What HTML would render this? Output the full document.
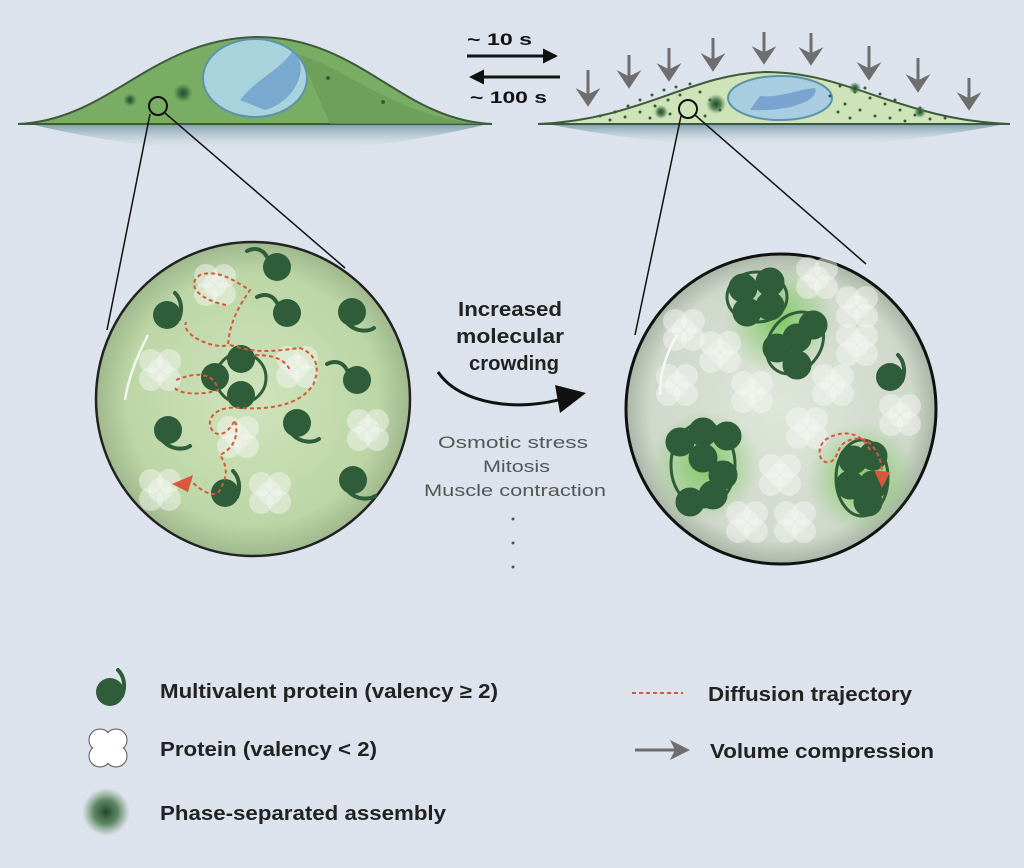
<!DOCTYPE html>
<html><head><meta charset="utf-8"><style>
body{margin:0;background:#dde3ec;}
svg{display:block;}
text{font-family:"Liberation Sans",Arial,sans-serif;}
</style></head><body>
<svg width="1024" height="868" viewBox="0 0 1024 868" xmlns="http://www.w3.org/2000/svg">
<defs>
<g id="prot"><circle cx="0" cy="0" r="14" fill="#2f5d3a"/><path d="M12,4 C16,-6 14,-16 8,-22" stroke="#2f5d3a" stroke-width="4" fill="none" stroke-linecap="round"/></g>
<g id="prot2"><circle cx="0" cy="0" r="14" fill="#2f5d3a"/><path d="M-4,12 C4,20 16,20 22,16" stroke="#2f5d3a" stroke-width="4" fill="none" stroke-linecap="round"/></g>
<g id="prot3"><circle cx="0" cy="0" r="14" fill="#2f5d3a"/><path d="M-10,-10 C-14,-18 -22,-20 -30,-16" stroke="#2f5d3a" stroke-width="4" fill="none" stroke-linecap="round"/></g>
<g id="cloud" fill="#f4f6f2" fill-opacity="0.5"><circle cx="-9" cy="-9" r="12"/><circle cx="9" cy="-9" r="12"/><circle cx="-9" cy="9" r="12"/><circle cx="9" cy="9" r="12"/><circle cx="0" cy="0" r="12"/></g>
<radialGradient id="lg" cx="0.5" cy="0.5" r="0.5"><stop offset="0" stop-color="#cfe3bb"/><stop offset="0.8" stop-color="#bcd6a6"/><stop offset="1" stop-color="#9fb98e"/></radialGradient>
<radialGradient id="rg" cx="0.5" cy="0.5" r="0.5"><stop offset="0" stop-color="#dfe6da"/><stop offset="0.85" stop-color="#cfd8cb"/><stop offset="1" stop-color="#a9b5a6"/></radialGradient>
<radialGradient id="glow"><stop offset="0" stop-color="#6cc24a" stop-opacity="0.8"/><stop offset="1" stop-color="#6cc24a" stop-opacity="0"/></radialGradient>
<radialGradient id="blob"><stop offset="0" stop-color="#1f4a28"/><stop offset="0.5" stop-color="#3c6e42" stop-opacity="0.8"/><stop offset="1" stop-color="#5b8a56" stop-opacity="0"/></radialGradient>
<linearGradient id="shadow" x1="0" y1="0" x2="0" y2="1"><stop offset="0" stop-color="#7d9fab"/><stop offset="1" stop-color="#dde3ec" stop-opacity="0"/></linearGradient>
<marker id="ah" viewBox="0 0 10 10" refX="8" refY="5" markerWidth="5" markerHeight="5" orient="auto"><path d="M0,0 L10,5 L0,10 z" fill="#111"/></marker>
</defs>

<!-- left cell -->
<path d="M30,124 Q260,180 488,124 Z" fill="url(#shadow)"/>
<path d="M18,124 C110,120 150,40 255,37 C360,36 400,120 492,124 Z" fill="#79ad63" stroke="#3d5a3a" stroke-width="2"/>
<path d="M300,55 C350,70 400,120 488,124 L330,124 Z" fill="#6a9a58" opacity="0.7"/>
<ellipse cx="255" cy="78" rx="52" ry="39" fill="#a8d3dc" stroke="#5c93a8" stroke-width="2"/>
<path d="M265,110 C300,100 310,60 292,52 C280,70 255,80 240,100 Z" fill="#7aa9d0"/>
<circle cx="130" cy="100" r="7" fill="url(#blob)"/><circle cx="183" cy="93" r="10" fill="url(#blob)"/>
<circle cx="328" cy="78" r="2" fill="#2f5d3a"/><circle cx="383" cy="102" r="2" fill="#2f5d3a"/>
<circle cx="158" cy="106" r="9" fill="none" stroke="#111" stroke-width="2"/>
<!-- right cell -->
<path d="M548,124 Q775,170 1005,124 Z" fill="url(#shadow)"/>
<path d="M538,124 C640,120 690,74 765,72 C850,72 900,120 1010,124 Z" fill="#cfe3b8" stroke="#3d5a3a" stroke-width="2"/>
<ellipse cx="780" cy="98" rx="52" ry="22" fill="#a8cde0" stroke="#5c93a8" stroke-width="2"/>
<path d="M750,110 C790,112 820,100 815,88 C795,90 780,98 760,96 Z" fill="#7aa3d0"/>
<g fill="#2f5d3a">
<circle cx="600" cy="116" r="1.5"/><circle cx="615" cy="112" r="1.5"/><circle cx="628" cy="106" r="1.5"/><circle cx="640" cy="100" r="1.5"/><circle cx="652" cy="95" r="1.5"/><circle cx="664" cy="90" r="1.5"/><circle cx="676" cy="87" r="1.5"/><circle cx="690" cy="84" r="1.5"/><circle cx="610" cy="120" r="1.5"/><circle cx="625" cy="117" r="1.5"/><circle cx="640" cy="112" r="1.5"/><circle cx="655" cy="106" r="1.5"/><circle cx="668" cy="100" r="1.5"/><circle cx="680" cy="95" r="1.5"/><circle cx="700" cy="92" r="1.5"/><circle cx="710" cy="100" r="1.5"/><circle cx="650" cy="118" r="1.5"/><circle cx="670" cy="114" r="1.5"/><circle cx="705" cy="116" r="1.5"/><circle cx="720" cy="110" r="1.5"/>
<circle cx="840" cy="86" r="1.5"/><circle cx="855" cy="92" r="1.5"/><circle cx="870" cy="98" r="1.5"/><circle cx="885" cy="104" r="1.5"/><circle cx="900" cy="110" r="1.5"/><circle cx="915" cy="115" r="1.5"/><circle cx="930" cy="119" r="1.5"/><circle cx="845" cy="104" r="1.5"/><circle cx="860" cy="110" r="1.5"/><circle cx="875" cy="116" r="1.5"/><circle cx="890" cy="118" r="1.5"/><circle cx="905" cy="121" r="1.5"/><circle cx="850" cy="118" r="1.5"/><circle cx="838" cy="112" r="1.5"/><circle cx="865" cy="88" r="1.5"/><circle cx="880" cy="94" r="1.5"/><circle cx="895" cy="100" r="1.5"/><circle cx="920" cy="108" r="1.5"/><circle cx="945" cy="118" r="1.5"/><circle cx="830" cy="96" r="1.5"/>
</g>
<circle cx="661" cy="112" r="7" fill="url(#blob)"/><circle cx="716" cy="104" r="10" fill="url(#blob)"/><circle cx="855" cy="88" r="6" fill="url(#blob)"/><circle cx="920" cy="112" r="6" fill="url(#blob)"/>
<circle cx="688" cy="109" r="9" fill="none" stroke="#111" stroke-width="2"/>

<!-- time arrows -->
<text x="467" y="45" font-size="17" font-weight="bold" fill="#111" textLength="65" lengthAdjust="spacingAndGlyphs">~ 10 s</text>
<line x1="467" y1="56" x2="555" y2="56" stroke="#111" stroke-width="3" marker-end="url(#ah)"/>
<line x1="560" y1="77" x2="472" y2="77" stroke="#111" stroke-width="3" marker-end="url(#ah)"/>
<text x="470" y="103" font-size="17" font-weight="bold" fill="#111" textLength="77" lengthAdjust="spacingAndGlyphs">~ 100 s</text>
<!-- compression arrows -->
<g stroke="#6e6e6e" stroke-width="3" fill="#6e6e6e">
<line x1="588" y1="70" x2="588" y2="98"/><path d="M580,92 L588,104 L596,92 L588,96z"/>
<line x1="629" y1="55" x2="629" y2="80"/><path d="M621,74 L629,86 L637,74 L629,78z"/>
<line x1="669" y1="48" x2="669" y2="73"/><path d="M661,67 L669,79 L677,67 L669,71z"/>
<line x1="713" y1="38" x2="713" y2="63"/><path d="M705,57 L713,69 L721,57 L713,61z"/>
<line x1="764" y1="32" x2="764" y2="56"/><path d="M756,50 L764,62 L772,50 L764,54z"/>
<line x1="811" y1="33" x2="811" y2="57"/><path d="M803,51 L811,63 L819,51 L811,55z"/>
<line x1="869" y1="46" x2="869" y2="72"/><path d="M861,66 L869,78 L877,66 L869,70z"/>
<line x1="918" y1="58" x2="918" y2="84"/><path d="M910,78 L918,90 L926,78 L918,82z"/>
<line x1="969" y1="78" x2="969" y2="102"/><path d="M961,96 L969,108 L977,96 L969,100z"/>
</g>

<!-- zoom lines -->
<line x1="150" y1="114" x2="107" y2="330" stroke="#111" stroke-width="1.5"/>
<line x1="165" y1="113" x2="345" y2="268" stroke="#111" stroke-width="1.5"/>
<line x1="681" y1="116" x2="635" y2="335" stroke="#111" stroke-width="1.5"/>
<line x1="695" y1="115" x2="866" y2="264" stroke="#111" stroke-width="1.5"/>

<!-- left circle -->
<circle cx="253" cy="399" r="157" fill="url(#lg)" stroke="#222" stroke-width="2.5"/>
<path d="M148,335 C135,360 128,380 125,400" stroke="#fff" stroke-width="2.5" fill="none" opacity="0.8"/>
<g>
<use href="#cloud" x="215" y="285"/><use href="#cloud" x="160" y="370"/><use href="#cloud" x="297" y="367"/><use href="#cloud" x="238" y="437"/><use href="#cloud" x="368" y="430"/><use href="#cloud" x="160" y="490"/><use href="#cloud" x="270" y="493"/>
</g>
<use href="#prot3" x="277" y="267"/><use href="#prot" x="167" y="315"/><use href="#prot3" x="287" y="313"/><use href="#prot2" x="352" y="312"/><use href="#prot3" x="357" y="380"/><use href="#prot2" x="168" y="430"/><use href="#prot2" x="297" y="423"/><use href="#prot2" x="353" y="480"/><use href="#prot" x="225" y="493"/>
<circle cx="241" cy="378" r="25" fill="none" stroke="#2f5d3a" stroke-width="3"/>
<circle cx="241" cy="359" r="14" fill="#2f5d3a"/><circle cx="215" cy="377" r="14" fill="#2f5d3a"/><circle cx="241" cy="395" r="14" fill="#2f5d3a"/>
<path d="M226,305 C200,300 185,285 200,275 C220,268 240,285 250,290 C240,305 230,320 228,345 C215,350 180,335 186,322 M230,345 C260,355 280,350 300,348 C318,355 320,370 313,385 C300,405 270,410 240,408 C215,405 205,420 212,430 C220,440 230,430 235,420 C240,440 230,450 220,455 C230,470 225,480 220,490 C215,500 200,490 190,480 M176,380 C200,370 215,375 218,390 C205,395 180,395 175,388 M255,355 C275,355 285,360 290,370" stroke="#d9573a" stroke-width="2" stroke-dasharray="4,3" fill="none"/>
<path d="M172,484 L193,475 L188,492 Z" fill="#d9573a"/>

<!-- middle -->
<text x="458" y="316" font-size="20" font-weight="bold" fill="#222" textLength="104" lengthAdjust="spacingAndGlyphs">Increased</text>
<text x="456" y="343" font-size="20" font-weight="bold" fill="#222" textLength="108" lengthAdjust="spacingAndGlyphs">molecular</text>
<text x="469" y="370" font-size="20" font-weight="bold" fill="#222" textLength="90" lengthAdjust="spacingAndGlyphs">crowding</text>
<path d="M438,372 C460,405 520,412 565,398" stroke="#111" stroke-width="3" fill="none"/>
<path d="M555,385 L586,393 L560,413 Z" fill="#111"/>
<text x="438" y="448" font-size="17" fill="#555" textLength="150" lengthAdjust="spacingAndGlyphs">Osmotic stress</text>
<text x="483" y="472" font-size="17" fill="#555" textLength="67" lengthAdjust="spacingAndGlyphs">Mitosis</text>
<text x="424" y="496" font-size="17" fill="#555" textLength="182" lengthAdjust="spacingAndGlyphs">Muscle contraction</text>
<circle cx="513" cy="519" r="1.5" fill="#555"/><circle cx="513" cy="543" r="1.5" fill="#555"/><circle cx="513" cy="567" r="1.5" fill="#555"/>

<!-- right circle -->
<circle cx="781" cy="409" r="155" fill="url(#rg)" stroke="#111" stroke-width="3"/>
<circle cx="780" cy="320" r="55" fill="url(#glow)"/><circle cx="705" cy="465" r="55" fill="url(#glow)"/><circle cx="862" cy="478" r="55" fill="url(#glow)"/>
<path d="M677,335 C665,355 660,375 660,395" stroke="#fff" stroke-width="2.5" fill="none" opacity="0.8"/>
<g>
<use href="#cloud" x="817" y="278"/><use href="#cloud" x="857" y="307"/><use href="#cloud" x="720" y="352"/><use href="#cloud" x="857" y="345"/><use href="#cloud" x="752" y="392"/><use href="#cloud" x="833" y="385"/><use href="#cloud" x="677" y="385"/><use href="#cloud" x="807" y="428"/><use href="#cloud" x="780" y="475"/><use href="#cloud" x="900" y="415"/><use href="#cloud" x="747" y="522"/><use href="#cloud" x="795" y="522"/><use href="#cloud" x="684" y="330"/>
</g>
<g fill="#2f5d3a" stroke="#2f5d3a" stroke-width="3">
<ellipse cx="757" cy="297" rx="30" ry="25" fill="none"/>
<circle cx="743" cy="288" r="13"/><circle cx="770" cy="282" r="13"/><circle cx="747" cy="312" r="13"/><circle cx="770" cy="306" r="13"/>
<ellipse cx="795" cy="343" rx="26" ry="33" fill="none" transform="rotate(35 795 343)"/>
<circle cx="813" cy="325" r="13"/><circle cx="777" cy="348" r="13"/><circle cx="797" cy="338" r="13"/><circle cx="797" cy="365" r="13"/>
<ellipse cx="703" cy="465" rx="32" ry="42" fill="none"/>
<circle cx="680" cy="442" r="13"/><circle cx="703" cy="432" r="13"/><circle cx="727" cy="436" r="13"/><circle cx="703" cy="458" r="13"/><circle cx="723" cy="475" r="13"/><circle cx="690" cy="502" r="13"/><circle cx="713" cy="495" r="13"/>
<ellipse cx="862" cy="478" rx="26" ry="38" fill="none"/>
<circle cx="853" cy="460" r="13"/><circle cx="873" cy="456" r="13"/><circle cx="850" cy="485" r="13"/><circle cx="873" cy="485" r="13"/><circle cx="868" cy="502" r="13"/>
</g>
<use href="#prot" x="890" y="377"/>
<path d="M870,450 C860,430 840,430 825,440 C815,450 820,465 830,462 C840,458 835,445 850,440 C865,435 875,445 880,460 L882,470" stroke="#d9573a" stroke-width="2" stroke-dasharray="4,3" fill="none"/>
<path d="M874,470 L890,472 L882,488 Z" fill="#d9573a"/>

<!-- legend -->
<use href="#prot" x="110" y="692"/>
<text x="160" y="698" font-size="20" font-weight="bold" fill="#222" textLength="338" lengthAdjust="spacingAndGlyphs">Multivalent protein (valency ≥ 2)</text>
<g fill="#fff" stroke="#555" stroke-width="1"><circle cx="100" cy="740" r="11"/><circle cx="116" cy="740" r="11"/><circle cx="100" cy="756" r="11"/><circle cx="116" cy="756" r="11"/></g>
<g fill="#fff"><circle cx="100" cy="740" r="10"/><circle cx="116" cy="740" r="10"/><circle cx="100" cy="756" r="10"/><circle cx="116" cy="756" r="10"/><circle cx="108" cy="748" r="12"/></g>
<text x="160" y="756" font-size="20" font-weight="bold" fill="#222" textLength="217" lengthAdjust="spacingAndGlyphs">Protein (valency &lt; 2)</text>
<circle cx="106" cy="812" r="24" fill="url(#blob)"/>
<text x="160" y="820" font-size="20" font-weight="bold" fill="#222" textLength="286" lengthAdjust="spacingAndGlyphs">Phase-separated assembly</text>
<line x1="632" y1="693" x2="683" y2="693" stroke="#d9573a" stroke-width="2" stroke-dasharray="4,3"/>
<text x="708" y="701" font-size="20" font-weight="bold" fill="#222" textLength="204" lengthAdjust="spacingAndGlyphs">Diffusion trajectory</text>
<line x1="635" y1="750" x2="678" y2="750" stroke="#6e6e6e" stroke-width="3"/>
<path d="M670,740 L690,750 L670,760 L675,750 Z" fill="#6e6e6e"/>
<text x="710" y="758" font-size="20" font-weight="bold" fill="#222" textLength="224" lengthAdjust="spacingAndGlyphs">Volume compression</text>
</svg>
</body></html>
